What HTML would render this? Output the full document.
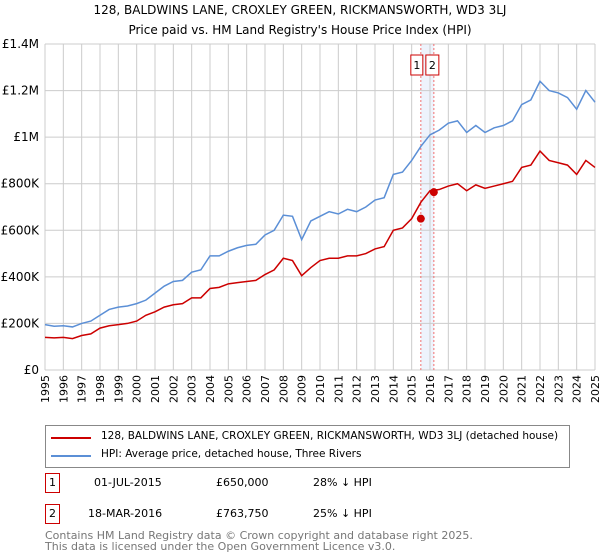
<!DOCTYPE html>
<html><head><meta charset="utf-8"><style>
body{margin:0;background:#fff;font-family:"DejaVu Sans","Liberation Sans",sans-serif;}
#wrap{position:relative;width:600px;height:560px;overflow:hidden}
.t{position:absolute;font-size:12px;color:#000;white-space:nowrap}
</style></head><body><div id="wrap">
<div class="t" style="left:0;width:600px;text-align:center;top:3px;font-size:12px">128, BALDWINS LANE, CROXLEY GREEN, RICKMANSWORTH, WD3 3LJ</div>
<div class="t" style="left:0;width:600px;text-align:center;top:23px;font-size:12px">Price paid vs. HM Land Registry's House Price Index (HPI)</div>
<svg id="c" width="600" height="420" style="position:absolute;left:0;top:0;font-family:'DejaVu Sans',sans-serif"></svg>
<div style="position:absolute;left:45px;top:425px;width:525px;height:43px;border:1px solid #888;box-sizing:border-box">
<div><div style="position:absolute;left:5px;top:11px;width:40px;height:2px;background:#cc0000"></div><div class="t" style="left:55px;top:4px;font-size:10.5px">128, BALDWINS LANE, CROXLEY GREEN, RICKMANSWORTH, WD3 3LJ (detached house)</div></div>
<div><div style="position:absolute;left:5px;top:29px;width:40px;height:2px;background:#5b8fd6"></div><div class="t" style="left:55px;top:22px;font-size:10.5px">HPI: Average price, detached house, Three Rivers</div></div>
</div>
<div>
<div class="t" style="left:45px;top:473px;width:15px;height:20px;border:1px solid #c00;box-sizing:border-box;text-align:center;font-size:11px;line-height:18px">1</div>
<div class="t" style="left:94px;top:476px;font-size:11px">01-JUL-2015</div>
<div class="t" style="left:216px;top:476px;font-size:11px">£650,000</div>
<div class="t" style="left:313px;top:476px;font-size:11px">28% ↓ HPI</div></div>
<div>
<div class="t" style="left:45px;top:504px;width:15px;height:20px;border:1px solid #c00;box-sizing:border-box;text-align:center;font-size:11px;line-height:18px">2</div>
<div class="t" style="left:88px;top:507px;font-size:11px">18-MAR-2016</div>
<div class="t" style="left:216px;top:507px;font-size:11px">£763,750</div>
<div class="t" style="left:313px;top:507px;font-size:11px">25% ↓ HPI</div></div>
<div class="t" style="left:45px;top:530px;font-size:11px;color:#777;line-height:11px">Contains HM Land Registry data © Crown copyright and database right 2025.<br>This data is licensed under the Open Government Licence v3.0.</div>
</div>
<script>
const years=[1995,1996,1997,1998,1999,2000,2001,2002,2003,2004,2005,2006,2007,2008,2009,2010,2011,2012,2013,2014,2015,2016,2017,2018,2019,2020,2021,2022,2023,2024,2025];
const yTicks=[0,200,400,600,800,1000,1200,1400];
const yTickLabels=["£0","£200K","£400K","£600K","£800K","£1M","£1.2M","£1.4M"];
const hpiValues=[195,188,190,185,200,210,235,260,270,275,285,300,330,360,380,385,420,430,490,490,510,525,535,540,580,600,665,660,560,640,660,680,670,690,680,700,730,740,840,850,900,960,1010,1030,1060,1070,1020,1050,1020,1040,1050,1070,1140,1160,1240,1200,1190,1170,1120,1200,1150];
const priceValues=[140,138,140,135,148,155,180,190,195,200,210,235,250,270,280,285,310,310,350,355,370,375,380,385,410,430,480,470,405,440,470,480,480,490,490,500,520,530,600,610,650,720,770,775,790,800,770,795,780,790,800,810,870,880,940,900,890,880,840,900,870];
const sales=[{t:2015.5,v:650,label:"1"},{t:2016.21,v:763.75,label:"2"}];
const NS="http://www.w3.org/2000/svg",svg=document.getElementById('c');
const X=t=>45+(t-1995)*(550/30), Y=v=>370-v*(326/1400);
function el(n,a,p){const e=document.createElementNS(NS,n);for(const k in a)e.setAttribute(k,a[k]);(p||svg).appendChild(e);return e;}
let r=el('rect',{x:X(sales[0].t),y:Y(1400),width:X(sales[1].t)-X(sales[0].t),height:Y(0)-Y(1400),fill:'#eef3fc'});

years.forEach(y=>{let l=el('line',{x1:X(y),x2:X(y),y1:Y(1400),y2:Y(0),stroke:'#ccc'});

let t=el('text',{x:0,y:0,'text-anchor':'end','font-size':11,transform:`translate(${X(y)+4},375) rotate(-90)`});t.textContent=y;
});
yTicks.forEach((v,i)=>{let l=el('line',{x1:X(1995),x2:X(2025),y1:Y(v),y2:Y(v),stroke:'#ccc'});

let t=el('text',{x:39,y:Y(v)+4,'text-anchor':'end','font-size':12});t.textContent=yTickLabels[i];
});
sales.forEach(s=>{let l=el('line',{x1:X(s.t),x2:X(s.t),y1:Y(1400),y2:Y(0),stroke:'#f07070','stroke-dasharray':'2,2'});
});
function pts(a){return a.map((v,i)=>X(1995+i*0.5)+','+Y(v)).join(' ');}
let h=el('polyline',{points:pts(hpiValues),fill:'none',stroke:'#5b8fd6','stroke-width':1.5});

let p=el('polyline',{points:pts(priceValues),fill:'none',stroke:'#cc0000','stroke-width':1.5});

sales.forEach((s,i)=>{let c=el('circle',{cx:X(s.t),cy:Y(s.v),r:4,fill:'#cc0000'});

let bx=i===0?X(s.t)-10:X(s.t)-8;
let b=el('rect',{x:bx,y:55,width:i===0?12:13,height:20,fill:'#fff',stroke:'#c00'});

let t=el('text',{x:bx+(i===0?6:6.5),y:69,'text-anchor':'middle','font-size':11});t.textContent=s.label;
});
</script></body></html>
